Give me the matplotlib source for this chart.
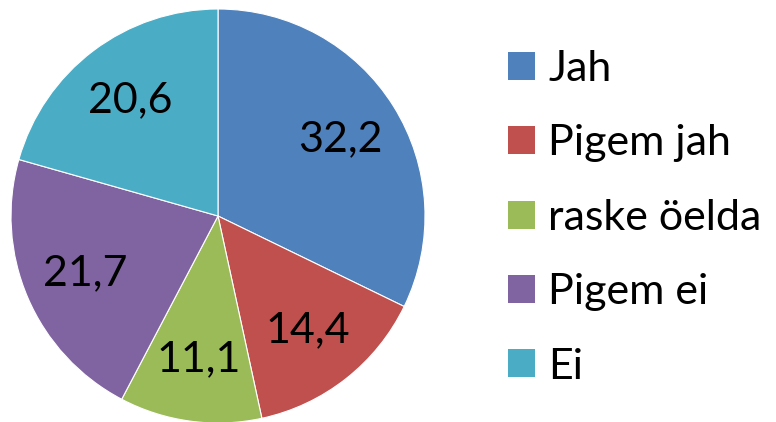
import matplotlib
matplotlib.use("Agg")
import matplotlib.pyplot as plt

categories = ["Jah", "Pigem jah", "raske öelda", "Pigem ei", "Ei"]
values = [32.2, 14.4, 11.1, 21.7, 20.6]
colors = ["#4F81BD", "#C0504D", "#9BBB59", "#8064A2", "#4BACC6"]

plt.rcParams["font.family"] = ["Lato", "DejaVu Sans"]

W, H = 776, 422
fig = plt.figure(figsize=(W / 100, H / 100), dpi=100)
cx, cy, r = 218, 206, 207
ax = fig.add_axes([(cx - r) / W, (cy - r) / H, 2 * r / W, 2 * r / H])

wedges, texts, autotexts = ax.pie(
    values, colors=colors, startangle=90, counterclock=False,
    autopct=lambda p: "", pctdistance=0.7, radius=1,
    wedgeprops=dict(edgecolor="white", linewidth=0.8),
)
for w, t, v in zip(wedges, autotexts, values):
    t.set_text(f"{v:.1f}".replace(".", ","))
    t.set_fontsize(31)
    t.set_color("black")
ax.set_xlim(-1, 1)
ax.set_ylim(-1, 1)
ax.set_aspect("equal")
ax.axis("off")

fs = 31
leg = fig.legend(
    wedges, categories, loc="upper left",
    bbox_to_anchor=(508 / W, 1 - 50 / H),
    frameon=False, fontsize=fs, borderpad=0, borderaxespad=0,
    handlelength=0.63, handleheight=0.63, handletextpad=0.3,
    labelspacing=0.845,
)
for h in leg.legend_handles:
    h.set_edgecolor("none")

fig.savefig("out.png", dpi=100)
